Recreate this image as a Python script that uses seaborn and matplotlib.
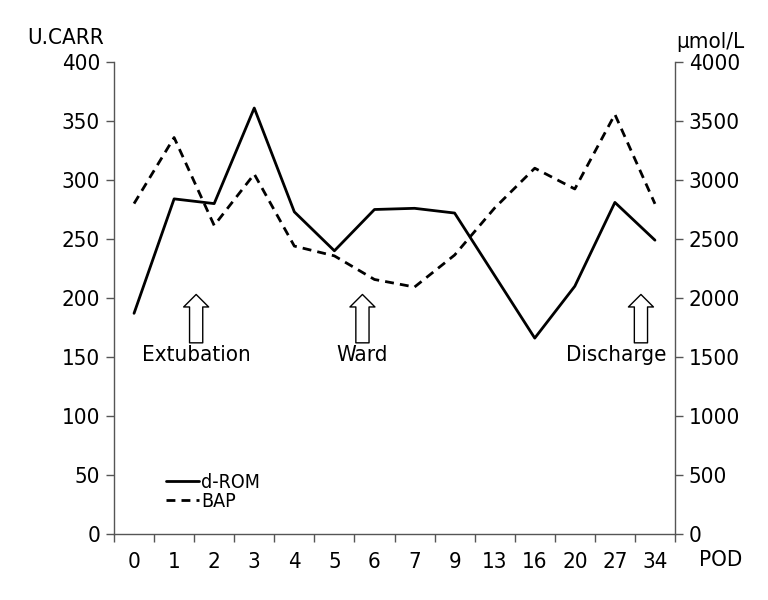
import numpy as np
import pandas as pd
import seaborn as sns
import matplotlib
matplotlib.use("Agg")
import matplotlib.pyplot as plt
from matplotlib.lines import Line2D

# ---- data ----
pod_labels = ["0", "1", "2", "3", "4", "5", "6", "7", "9", "13", "16", "20", "27", "34"]
drom = [187, 284, 280, 361, 273, 240, 275, 276, 272, 219, 166, 210, 281, 249]
bap = [2800, 3360, 2615, 3050, 2440, 2357, 2157, 2093, 2364, 2763, 3100, 2924, 3556, 2798]
events = ["Extubation", "Ward", "Discharge"]
event_pos = [1.55, 5.7, 12.65]

sns.set_theme(style="white")
plt.rcParams['font.family'] = ['DejaVu Sans']
plt.rcParams['font.stretch'] = 'condensed'
plt.rcParams['text.color'] = 'black'
FS = 16

df = pd.DataFrame({"pos": np.arange(len(pod_labels)), "drom": drom, "bap": bap})

fig = plt.figure(figsize=(7.68, 6.0), dpi=100)
ax = fig.add_axes([114/768, 66/600, 561/768, 472/600])
ax2 = ax.twinx()

sns.lineplot(data=df, x="pos", y="drom", ax=ax, color="black", lw=2.0)
sns.lineplot(data=df, x="pos", y="bap", ax=ax2, color="black", lw=2.0,
             linestyle=(0, (3.2, 2.2)))

ax.set_xlim(-0.5, len(pod_labels) - 0.5)
ax.set_ylim(0, 400)
ax2.set_ylim(0, 4000)
ax.set_xlabel("")
ax.set_ylabel("")
ax2.set_ylabel("")

ax.set_xticks(np.arange(len(pod_labels)))
ax.set_xticklabels(pod_labels)
ax.set_xticks(np.arange(-0.5, len(pod_labels)), minor=True)
ax.tick_params(axis="x", which="major", length=0, pad=13, labelsize=FS, colors="black")
ax.tick_params(axis="x", which="minor", length=6, width=1, color="#555555", bottom=True)

ax.set_yticks(np.arange(0, 401, 50))
ax.tick_params(axis="y", which="major", left=True, length=6, width=1, pad=4,
               labelsize=FS, color="#555555", labelcolor="black")
ax2.set_yticks(np.arange(0, 4001, 500))
ax2.tick_params(axis="y", which="major", right=True, length=6, width=1, pad=4,
                labelsize=FS, color="#555555", labelcolor="black")

for a in (ax, ax2):
    a.spines["top"].set_visible(False)
    for s in ("left", "right", "bottom"):
        a.spines[s].set_color("#555555")
        a.spines[s].set_linewidth(1.0)
ax.spines["right"].set_visible(False)
ax2.spines["left"].set_visible(False)
ax2.spines["bottom"].set_visible(False)

# axis titles
ax.text(-0.087, 1.05, "U.CARR", transform=ax.transAxes, ha="center", va="center", fontsize=FS)
ax.text(1.063, 1.042, "µmol/L", transform=ax.transAxes, ha="center", va="center", fontsize=FS)
ax.text(1.082, -0.055, "POD", transform=ax.transAxes, ha="center", va="center", fontsize=FS)

# event arrows
for name, xp in zip(events, event_pos):
    ax.annotate("", xy=(xp, 203), xytext=(xp, 162),
                arrowprops=dict(arrowstyle="simple,head_length=0.9,head_width=1.8,tail_width=0.95",
                                fc="white", ec="black", lw=1.0, mutation_scale=10,
                                shrinkA=0, shrinkB=0))
ax.text(event_pos[0], 152, events[0], ha="center", va="center", fontsize=FS)
ax.text(event_pos[1], 152, events[1], ha="center", va="center", fontsize=FS)
ax.text(13.3, 152, events[2], ha="right", va="center", fontsize=FS)

# legend
handles = [Line2D([0], [0], color="black", lw=2.0),
           Line2D([0], [0], color="black", lw=2.0, linestyle=(0, (3.2, 2.2)))]
leg = ax.legend(handles, ["d-ROM", "BAP"], loc="lower left", bbox_to_anchor=(0.075, 0.028),
                frameon=False, fontsize=14, handlelength=1.7, handletextpad=0.1,
                labelspacing=0.0, borderpad=0)

fig.savefig("out.png", dpi=100)
